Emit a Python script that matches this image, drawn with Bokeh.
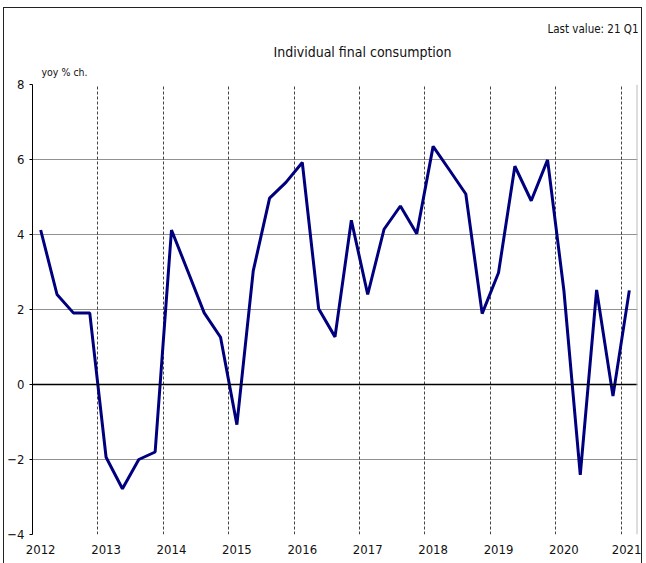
from bokeh.plotting import figure
from bokeh.models import FixedTicker, Span, ColumnDataSource, Range1d, Title
from bokeh.embed import file_html
from bokeh.resources import INLINE

# ---- data -------------------------------------------------------------
years = ["2012", "2013", "2014", "2015", "2016", "2017", "2018", "2019", "2020", "2021"]
quarters = [f"{y}Q{q}" for y in years[:-1] for q in range(1, 5)] + ["2021Q1"]
values = [4.12, 2.40, 1.91, 1.91,
          -1.94, -2.78, -2.00, -1.80,
          4.12, 3.02, 1.91, 1.26,
          -1.07, 3.03, 4.97, 5.39,
          5.92, 2.02, 1.27, 4.38,
          2.40, 4.14, 4.76, 4.02,
          6.35, 5.72, 5.08, 1.89,
          2.98, 5.82, 4.90, 5.99,
          2.50, -2.41, 2.52, -0.31,
          2.51]
y_ticks = [-4, -2, 0, 2, 4, 6, 8]
title_text = "Individual final consumption"
unit_text = "yoy % ch."
last_text = "Last value: 21 Q1"

FONT = "DejaVu Sans Condensed"

idx = list(range(len(values)))
src = ColumnDataSource(data=dict(x=idx, y=values, q=quarters))

p = figure(width=637, height=555,
           x_range=Range1d(-0.5, len(values) - 0.5),
           y_range=Range1d(y_ticks[0], y_ticks[-1]),
           output_backend="svg", toolbar_location=None,
           min_border_left=20, min_border_right=6,
           min_border_top=76, min_border_bottom=30,
           styles={"position": "absolute", "left": "3px", "top": "7px",
                   "box-sizing": "content-box",
                   "border-left": "1px solid #222", "border-top": "1px solid #222",
                   "border-right": "1px solid #222",
                   "box-shadow": "-7px 0 0 0 #ffffff, -8px 0 0 0 #333333"})
p.background_fill_color = "white"
p.border_fill_color = "white"
p.outline_line_color = None

# x axis: year labels at each Q1
year_pos = [i * 4 for i in range(len(years))]
p.xaxis.ticker = FixedTicker(ticks=year_pos)
p.xaxis.major_label_overrides = {pos: y for pos, y in zip(year_pos, years)}
p.xaxis.major_tick_out = 0
p.xaxis.major_tick_in = 0
p.xaxis.minor_tick_line_color = None
p.xaxis.axis_line_color = None
p.xaxis.major_label_standoff = 10
p.xaxis.major_label_text_font = FONT
p.xaxis.major_label_text_font_size = "13px"
p.xaxis.major_label_text_color = "#111"

# y axis
p.yaxis.ticker = FixedTicker(ticks=y_ticks)
p.yaxis.major_tick_out = 3
p.yaxis.major_tick_in = 0
p.yaxis.minor_tick_line_color = None
p.yaxis.axis_line_color = "black"
p.yaxis.axis_line_width = 1
p.yaxis.major_label_standoff = 5
p.yaxis.major_label_text_font = FONT
p.yaxis.major_label_text_font_size = "13px"
p.yaxis.major_label_text_color = "#111"

# grids
p.ygrid.ticker = FixedTicker(ticks=y_ticks)
p.ygrid.grid_line_color = "#222"
p.ygrid.grid_line_dash = "1 1"
p.ygrid.grid_line_width = 1
p.xgrid.ticker = FixedTicker(ticks=[pos - 0.5 for pos in year_pos[1:]])
p.xgrid.grid_line_color = "#444"
p.xgrid.grid_line_dash = "3 2"
p.xgrid.grid_line_width = 1

p.add_layout(Span(location=0, dimension="width", line_color="black", line_width=1.3))
p.add_layout(Span(location=len(values) - 0.5, dimension="height", line_color="#bbbbbb", line_width=2))

p.line(x="x", y="y", source=src, line_color="#00007f", line_width=3)

# texts above the frame (first added = nearest the frame)
p.add_layout(Title(text=unit_text, align="left", offset=9, standoff=14,
                   text_font=FONT, text_font_size="10.5px", text_font_style="normal",
                   text_color="#111"), "above")
p.add_layout(Title(text=title_text, align="left", offset=241, standoff=-6.5,
                   text_font=FONT, text_font_size="14px", text_font_style="normal",
                   text_color="#111"), "above")
p.add_layout(Title(text=last_text, align="right", offset=-1, standoff=18,
                   text_font=FONT, text_font_size="11.5px", text_font_style="normal",
                   text_color="#111"), "above")

open("out.html", "w").write(file_html(p, INLINE))
